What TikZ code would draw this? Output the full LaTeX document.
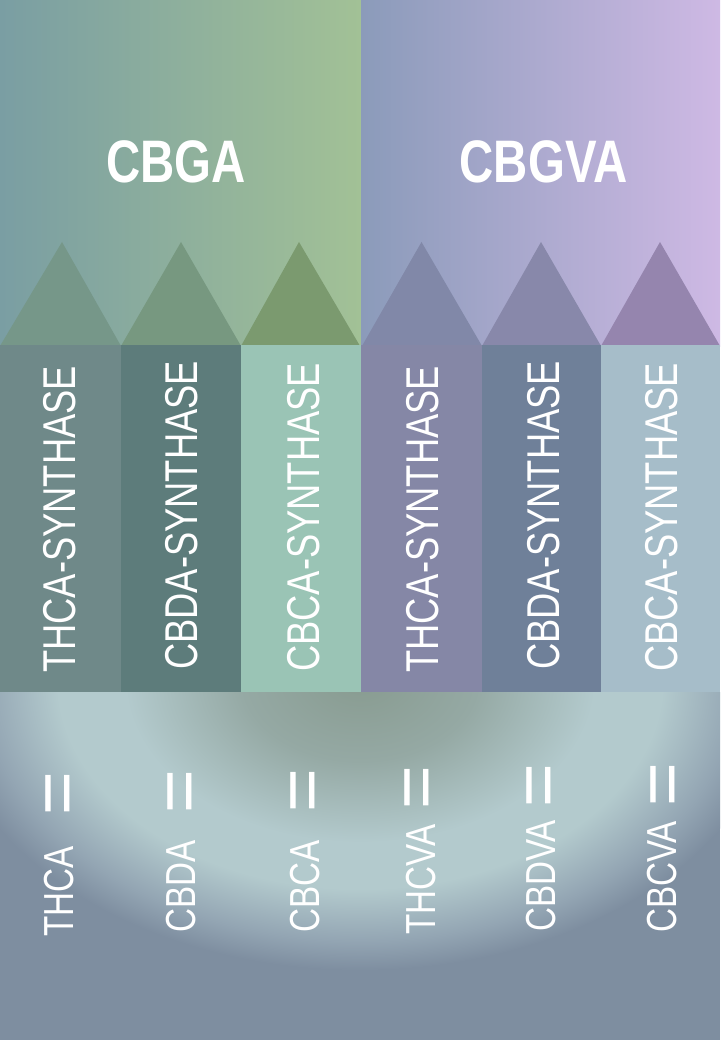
\documentclass[tikz,border=0pt]{standalone}
\usepackage{fontspec}
\setmainfont{Liberation Sans}[FakeStretch=0.79]
\newfontfamily\eqfont{Liberation Sans}
\definecolor{lpL}{HTML}{7A9EA3}
\definecolor{lpR}{HTML}{A2C196}
\definecolor{rpL}{HTML}{8B9BBA}
\definecolor{rpR}{HTML}{CEB9E4}
\definecolor{triA}{HTML}{769789}
\definecolor{triB}{HTML}{779880}
\definecolor{triC}{HTML}{7B9A6F}
\definecolor{triD}{HTML}{8188A8}
\definecolor{triE}{HTML}{8888AA}
\definecolor{triF}{HTML}{9585AE}
\definecolor{colA}{HTML}{6F8989}
\definecolor{colB}{HTML}{5D7C7B}
\definecolor{colC}{HTML}{9AC4B5}
\definecolor{colD}{HTML}{8587A6}
\definecolor{colE}{HTML}{6F8099}
\definecolor{colF}{HTML}{A6BDC9}
\definecolor{glowA}{HTML}{889B90}
\definecolor{glowB}{HTML}{95A9A4}
\definecolor{glowC}{HTML}{B3CACD}
\definecolor{glowD}{HTML}{93A5B3}
\definecolor{glowE}{HTML}{7E8EA0}
\pgfdeclareradialshading{bottomglow}{\pgfpoint{0bp}{0bp}}{%
  color(0bp)=(glowA); color(7bp)=(glowB); color(14bp)=(glowC);
  color(18bp)=(glowC); color(22.5bp)=(glowD); color(25bp)=(glowE);
  color(50bp)=(glowE)}
\begin{document}
\begin{tikzpicture}[x=1pt,y=-1pt,
  title/.style={text=white,inner sep=0pt,anchor=base,
    font=\bfseries\fontsize{60}{60}\selectfont},
  synth/.style={text=white,inner sep=0pt,anchor=base west,rotate=90,
    font=\fontsize{46}{46}\selectfont},
  prod/.style={text=white,inner sep=0pt,anchor=base west,rotate=90,
    font=\fontsize{42}{42}\selectfont},
  eqsign/.style={text=white,inner sep=0pt,anchor=base,rotate=90,
    font=\eqfont\fontsize{75}{75}\selectfont}]
\useasboundingbox (0,0) rectangle (720,1040);
% top panels
\shade[left color=lpL,right color=lpR] (0,0) rectangle (361,346);
\shade[left color=rpL,right color=rpR] (361,0) rectangle (720,346);
% triangles
\fill[triA] (0,346) -- (62,242) -- (121,346) -- cycle;
\fill[triB] (121,346) -- (181,242) -- (241,346) -- cycle;
\fill[triC] (241,346) -- (299,242) -- (360,346) -- cycle;
\fill[triD] (362,346) -- (421.5,242) -- (482,346) -- cycle;
\fill[triE] (482,346) -- (541,242) -- (601,346) -- cycle;
\fill[triF] (601,346) -- (660,242) -- (720,346) -- cycle;
% titles
\node[title] (cbga) at (176,183) {CBGA};
\node[title] (cbgva) at (543.5,183) {CBGVA};
% columns
\fill[colA] (0,345) rectangle (121,692);
\fill[colB] (121,345) rectangle (241,692);
\fill[colC] (241,345) rectangle (361,692);
\fill[colD] (361,345) rectangle (482,692);
\fill[colE] (482,345) rectangle (601,692);
\fill[colF] (601,345) rectangle (720,692);
\node[synth] (s1) at (75,673) {THCA-SYNTHASE};
\node[synth] (s2) at (197,670) {CBDA-SYNTHASE};
\node[synth] (s3) at (319,672) {CBCA-SYNTHASE};
\node[synth] (s4) at (438.5,673) {THCA-SYNTHASE};
\node[synth] (s5) at (559,670) {CBDA-SYNTHASE};
\node[synth] (s6) at (677,672) {CBCA-SYNTHASE};
% bottom background
\begin{scope}
\clip (0,692) rectangle (720,1040);
\fill[glowE] (0,692) rectangle (720,1040);
\shade[shading=bottomglow] (360,680) ellipse [x radius=420pt,y radius=290pt];
\end{scope}
% products
\node[prod] (p1) at (73.5,937) {THCA};
\node[prod] (p2) at (195,933) {CBDA};
\node[prod] (p3) at (319,933) {CBCA};
\node[prod] (p4) at (435,935) {THCVA};
\node[prod] (p5) at (555.5,932) {CBDVA};
\node[prod] (p6) at (676,933) {CBCVA};
\node[eqsign] (e1) at (58+24,794) {=};
\node[eqsign] (e2) at (180+24,791.5) {=};
\node[eqsign] (e3) at (303+24,791) {=};
\node[eqsign] (e4) at (417.5+24,788) {=};
\node[eqsign] (e5) at (539+24,786) {=};
\node[eqsign] (e6) at (663+24,784.5) {=};
\end{tikzpicture}
\end{document}
